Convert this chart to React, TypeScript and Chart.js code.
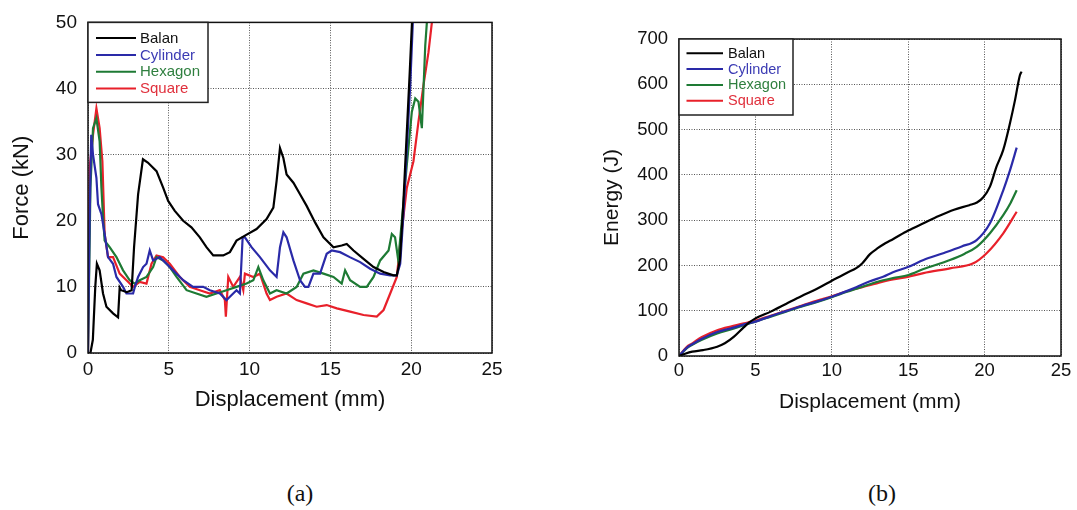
import React, { useEffect, useRef } from "react";
import { Chart, registerables } from "chart.js";

Chart.register(...registerables);

// ---------- series names & colours ----------
const SERIES_NAMES = ["Balan", "Cylinder", "Hexagon", "Square"];
const LINE_COLORS = ["#000000", "#2a2aa8", "#1e7a34", "#e8202a"];
const TEXT_COLORS = ["#111111", "#3c3cb4", "#2f7f3f", "#e0303c"];

// ---------- axis ticks ----------
const DISP_TICKS = [0, 5, 10, 15, 20, 25];
const FORCE_TICKS = [0, 10, 20, 30, 40, 50];
const ENERGY_TICKS = [0, 100, 200, 300, 400, 500, 600, 700];

// ---------- (a) Force vs displacement ----------
const balanForceD = [0, 0.15, 0.3, 0.45, 0.55, 0.72, 0.93, 1.14, 1.55, 1.86, 1.96, 2.05, 2.4, 2.7, 2.85, 3.1, 3.4, 3.7, 4.24, 4.65, 4.96, 5.37, 5.89, 6.4, 6.92, 7.33, 7.75, 8.37, 8.78, 9.19, 9.71, 10.43, 11.05, 11.47, 11.67, 11.88, 12.09, 12.29, 12.71, 13.12, 13.53, 14.05, 14.57, 15.19, 15.7, 16.01, 16.43, 17.05, 17.67, 18.29, 18.9, 19.11, 19.3, 19.5, 19.7, 19.9, 20.05];
const balanForceF = [0, 0, 2, 10, 13.5, 12.5, 9, 7, 6, 5.4, 9.9, 9.5, 9.2, 9.5, 16, 24, 29.3, 28.8, 27.5, 25, 23, 21.5, 20, 19, 17.5, 16, 14.75, 14.75, 15.25, 17, 17.75, 18.75, 20.25, 22, 26, 31, 29.5, 27, 25.75, 24, 22.25, 19.75, 17.5, 16, 16.25, 16.5, 15.5, 14.25, 13, 12.25, 11.75, 11.75, 14, 22, 32, 42, 50];

const cylinderForceD = [0, 0.1, 0.2, 0.31, 0.52, 0.62, 0.83, 1.03, 1.24, 1.55, 1.76, 2.17, 2.38, 2.79, 2.9, 3.1, 3.41, 3.62, 3.82, 4.03, 4.44, 4.86, 5.27, 5.89, 6.5, 7.13, 7.54, 8.16, 8.57, 8.78, 9.19, 9.4, 9.57, 9.71, 10.12, 10.64, 11.26, 11.67, 11.88, 12.09, 12.29, 12.71, 13.12, 13.43, 13.64, 13.95, 14.36, 14.77, 15.08, 15.6, 16.2, 16.84, 17.46, 18.08, 18.7, 19.11, 19.32, 19.52, 19.73, 19.94, 20.1];
const cylinderForceF = [0, 20, 33, 30, 26.5, 22.5, 21, 18, 14.5, 13.5, 11.5, 10, 9, 9, 10, 11.5, 13, 13.5, 15.5, 14, 14.5, 13.5, 12.5, 11, 10, 10, 9.5, 9, 8, 8.5, 9.5, 9, 17.5, 17.5, 16, 14.5, 12.5, 11.5, 16, 18.25, 17.5, 14, 11, 10, 10, 12, 12, 15, 15.5, 15.25, 14.5, 13.75, 12.75, 12, 11.75, 11.75, 13.5, 21, 31, 40.5, 50];

const hexagonForceD = [0, 0.15, 0.31, 0.52, 0.72, 0.83, 0.93, 1.03, 1.34, 1.76, 2.17, 2.58, 2.89, 3.2, 3.62, 4.03, 4.24, 4.65, 5.06, 5.48, 6.1, 6.71, 7.33, 7.95, 8.57, 9.19, 9.81, 10.23, 10.54, 10.85, 11.26, 11.67, 12.29, 12.91, 13.33, 13.95, 14.57, 15.19, 15.7, 15.91, 16.22, 16.84, 17.25, 17.67, 18.08, 18.6, 18.8, 19.0, 19.2, 19.42, 19.73, 20.04, 20.25, 20.45, 20.66, 20.87, 20.97];
const hexagonForceF = [0, 25, 34, 35.5, 32, 25, 20.5, 17, 16, 14.5, 12.5, 11, 10.5, 11, 11.5, 13, 14.5, 14, 13, 11.5, 9.5, 9, 8.5, 9, 9.5, 10, 10.5, 11, 13, 11, 9, 9.5, 9, 10, 12, 12.5, 12, 11.5, 10.5, 12.5, 11, 10, 10, 11.5, 14, 15.5, 18, 17.5, 14, 20, 28.5, 36.5, 38.5, 38, 34, 46.5, 50];

const squareForceD = [0, 0.1, 0.31, 0.52, 0.72, 0.89, 1.03, 1.24, 1.55, 1.96, 2.38, 2.79, 3.2, 3.62, 3.93, 4.24, 4.65, 5.06, 5.68, 6.3, 6.92, 7.54, 8.16, 8.47, 8.53, 8.68, 8.99, 9.4, 9.61, 9.71, 10.23, 10.64, 11.05, 11.26, 11.67, 12.29, 12.91, 13.53, 14.15, 14.77, 15.4, 16.22, 17.05, 17.87, 18.29, 18.7, 19.11, 19.32, 19.73, 20.14, 20.45, 20.76, 21.07, 21.28];
const squareForceF = [0, 28, 33, 37, 34, 29, 18, 14.5, 14.5, 12, 11, 10, 10.75, 10.5, 13.5, 14.75, 14.5, 13.5, 11.5, 10, 9.5, 9, 9.5, 8, 5.5, 11.5, 10, 11.5, 9.5, 12, 11.5, 12, 9, 8, 8.5, 9, 8, 7.5, 7, 7.25, 6.75, 6.25, 5.75, 5.5, 6.5, 9, 11.5, 16.5, 25, 29, 35, 40.5, 45.5, 50];

// ---------- (b) Energy vs displacement ----------
const balanEnergyD = [0, 0.4, 0.87, 1.57, 2.5, 3.0, 3.6, 4.2, 4.6, 5, 6, 7, 8, 9, 10, 11, 11.6, 12, 12.5, 13, 13.5, 14, 15, 16, 17, 18, 19, 19.5, 19.9, 20.35, 20.78, 21.22, 21.66, 21.99, 22.31, 22.42];
const balanEnergyE = [0, 5, 9.5, 13, 20.6, 28, 42.6, 62, 74, 83, 98, 115, 132, 148, 166, 184, 194, 205, 225, 238, 249, 258, 277, 293, 309, 323, 333, 339, 350, 374, 418, 455, 514, 565, 620, 628];

const cylinderEnergyD = [0, 0.5, 0.87, 1.5, 2.5, 3.5, 4.5, 5, 6, 7, 8, 9, 10, 11.18, 11.6, 12.5, 13.36, 14, 15.02, 16, 17.29, 18.5, 19.48, 20.35, 21.22, 21.66, 22.1];
const cylinderEnergyE = [0, 18, 26, 38, 53, 62, 72, 76, 88, 99, 110, 120, 131, 146, 152, 165, 175, 185, 197, 212, 227, 242, 256, 293, 366, 410, 460];

const hexagonEnergyD = [0, 0.5, 0.87, 1.5, 2.5, 3.5, 4.5, 5, 6, 7, 8, 9, 10, 11, 12, 13, 14, 15.02, 16, 17.73, 18.7, 19.48, 20.35, 21.22, 21.7, 22.1];
const hexagonEnergyE = [0, 17, 25, 36, 50, 60, 71, 76, 87, 98, 109, 119, 130, 142, 153, 164, 172, 179, 192, 212, 226, 241, 271, 311, 338, 366];

const squareEnergyD = [0, 0.5, 0.87, 1.5, 2.5, 3.5, 4.5, 5, 6, 7, 8, 9, 10, 11, 12, 13, 14, 15.02, 16, 17.73, 19.26, 20.13, 21.22, 22.1];
const squareEnergyE = [0, 20, 28, 42, 57, 66, 74, 78, 89, 100, 111, 122, 132, 143, 152, 161, 169, 175, 183, 193.6, 204.6, 227, 271, 318.6];

const FORCE_SERIES = [
  [balanForceD, balanForceF],
  [cylinderForceD, cylinderForceF],
  [hexagonForceD, hexagonForceF],
  [squareForceD, squareForceF],
];
const ENERGY_SERIES = [
  [balanEnergyD, balanEnergyE],
  [cylinderEnergyD, cylinderEnergyE],
  [hexagonEnergyD, hexagonEnergyE],
  [squareEnergyD, squareEnergyE],
];

const SANS = '"Liberation Sans", Arial, Helvetica, sans-serif';

const framePlugin = {
  id: "plotFrame",
  afterDatasetsDraw(chart: any) {
    const { ctx, chartArea } = chart;
    ctx.save();
    ctx.strokeStyle = "#111";
    ctx.lineWidth = 1.5;
    ctx.strokeRect(chartArea.left, chartArea.top, chartArea.right - chartArea.left, chartArea.bottom - chartArea.top);
    ctx.restore();
  },
};

const boxLegendPlugin = {
  id: "boxLegend",
  afterDraw(chart: any, _args: any, opts: any) {
    if (!opts || !opts.show) return;
    const { ctx, chartArea } = chart;
    const x0 = chartArea.left;
    const y0 = chartArea.top;
    ctx.save();
    ctx.fillStyle = "#ffffff";
    ctx.fillRect(x0, y0, opts.w, opts.h);
    ctx.strokeStyle = "#222";
    ctx.lineWidth = 1.5;
    ctx.strokeRect(x0, y0, opts.w, opts.h);
    ctx.font = `${opts.fontSize}px ${SANS}`;
    ctx.textBaseline = "middle";
    ctx.textAlign = "left";
    chart.data.datasets.forEach((ds: any, i: number) => {
      const y = y0 + opts.firstRow + i * opts.rowGap;
      ctx.strokeStyle = ds.borderColor;
      ctx.lineWidth = 2;
      ctx.beginPath();
      ctx.moveTo(x0 + opts.lineX0, y);
      ctx.lineTo(x0 + opts.lineX1, y);
      ctx.stroke();
      ctx.fillStyle = TEXT_COLORS[i];
      ctx.fillText(ds.label, x0 + opts.textX, y + 0.5);
    });
    ctx.restore();
  },
};

function makeConfig(p: any) {
  const datasets = p.series.map((s: number[][], i: number) => ({
    label: SERIES_NAMES[i],
    data: s[0].map((x: number, j: number) => ({ x, y: s[1][j] })),
    borderColor: LINE_COLORS[i],
    backgroundColor: LINE_COLORS[i],
    borderWidth: 2.2,
    pointRadius: 0,
    fill: false,
    tension: 0,
    cubicInterpolationMode: p.smooth ? "monotone" : "default",
  }));
  const grid = { color: "#555", lineWidth: 1, drawTicks: false };
  return {
    type: "line",
    data: { datasets },
    plugins: [framePlugin, boxLegendPlugin],
    options: {
      animation: false,
      responsive: false,
      devicePixelRatio: 1,
      layout: { padding: p.padding },
      plugins: {
        legend: { display: false },
        tooltip: { enabled: false },
        boxLegend: p.legend,
      },
      scales: {
        x: {
          type: "linear",
          min: 0,
          max: 25,
          afterBuildTicks: (scale: any) => {
            scale.ticks = DISP_TICKS.map((v) => ({ value: v }));
          },
          afterFit: (scale: any) => {
            scale.height = p.xHeight;
          },
          grid,
          border: { display: false, dash: [1, 1.5] },
          ticks: { color: "#111", font: { family: SANS, size: p.tickSize }, padding: p.xTickPad, maxRotation: 0 },
          title: { display: true, text: "Displacement (mm)", color: "#111", font: { family: SANS, size: p.xTitleSize }, padding: { top: 0, bottom: p.xTitlePad } },
        },
        y: {
          type: "linear",
          min: 0,
          max: p.yMax,
          afterBuildTicks: (scale: any) => {
            scale.ticks = p.yTicks.map((v: number) => ({ value: v }));
          },
          afterFit: (scale: any) => {
            scale.width = p.yWidth;
          },
          grid,
          border: { display: false, dash: [1, 1.5] },
          ticks: { color: "#111", font: { family: SANS, size: p.tickSize }, padding: 11 },
          title: { display: true, text: p.yTitle, color: "#111", font: { family: SANS, size: p.yTitleSize }, padding: { top: p.yTitlePad, bottom: 0 } },
        },
      },
    },
  };
}

function ChartCanvas(props: { config: any; left: number; top: number; width: number; height: number }) {
  const ref = useRef<HTMLCanvasElement | null>(null);
  useEffect(() => {
    if (!ref.current) return;
    const chart = new Chart(ref.current, props.config);
    return () => chart.destroy();
  }, []);
  return (
    <canvas
      ref={ref}
      width={props.width}
      height={props.height}
      style={{ position: "absolute", left: props.left, top: props.top, width: props.width, height: props.height }}
    />
  );
}

const forceConfig = makeConfig({
  series: FORCE_SERIES,
  smooth: false,
  padding: { left: 0, top: 20, right: 48, bottom: 0 },
  xHeight: 67,
  yWidth: 88,
  yMax: 50,
  yTicks: FORCE_TICKS,
  yTitle: "Force (kN)",
  tickSize: 19,
  xTitleSize: 22,
  yTitleSize: 22,
  xTickPad: 5,
  xTitlePad: 7,
  yTitlePad: 9,
  legend: { show: true, w: 120, h: 80, firstRow: 15.7, rowGap: 16.8, lineX0: 8, lineX1: 48, textX: 52, fontSize: 15 },
});

const energyConfig = makeConfig({
  series: ENERGY_SERIES,
  smooth: true,
  padding: { left: 30, top: 39, right: 16, bottom: 0 },
  xHeight: 64,
  yWidth: 89,
  yMax: 700,
  yTicks: ENERGY_TICKS,
  yTitle: "Energy (J)",
  tickSize: 18.5,
  xTitleSize: 21,
  yTitleSize: 21,
  xTickPad: 4,
  xTitlePad: 5,
  yTitlePad: 10,
  legend: { show: true, w: 114, h: 76, firstRow: 14.3, rowGap: 15.8, lineX0: 7.5, lineX1: 44, textX: 49, fontSize: 14.5 },
});

const captionStyle: any = {
  position: "absolute",
  top: 481,
  width: 80,
  height: 26,
  textAlign: "center",
  fontFamily: '"Liberation Serif", "Times New Roman", serif',
  fontSize: 24,
  lineHeight: "24px",
  color: "#111",
};

export default function App() {
  return (
    <div style={{ position: "absolute", left: 0, top: 0, width: 1077, height: 510, background: "#ffffff", overflow: "hidden" }}>
      <ChartCanvas config={forceConfig} left={0} top={0} width={540} height={420} />
      <ChartCanvas config={energyConfig} left={560} top={0} width={517} height={420} />
      <div style={{ ...captionStyle, left: 260 }}>(a)</div>
      <div style={{ ...captionStyle, left: 842 }}>(b)</div>
    </div>
  );
}
